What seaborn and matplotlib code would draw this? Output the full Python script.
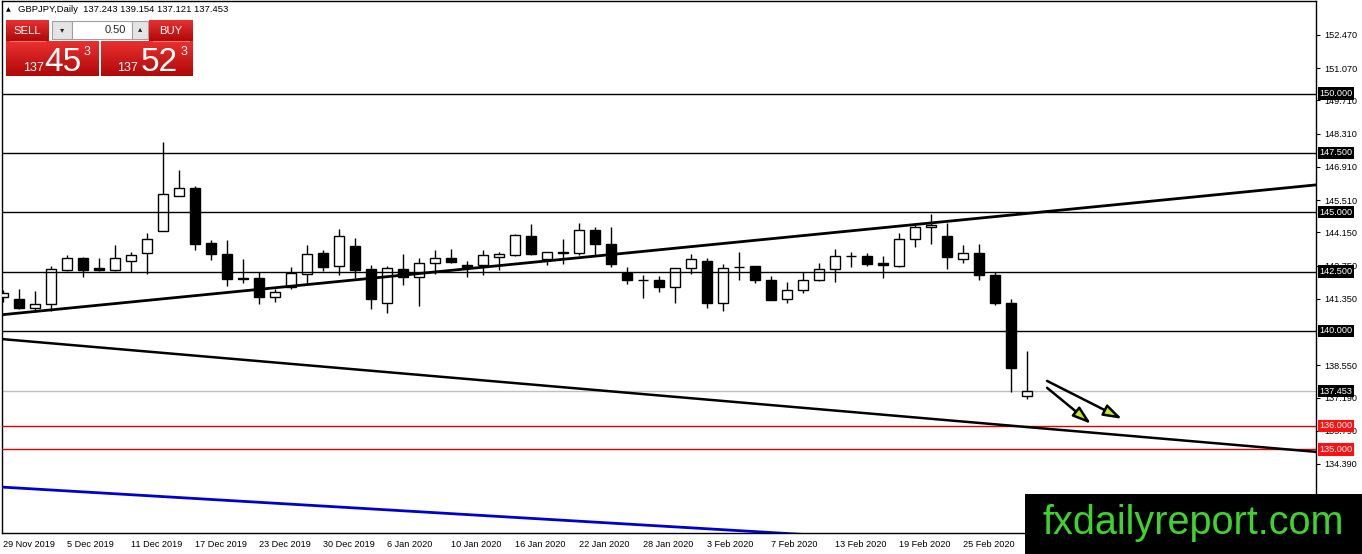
import numpy as np
import pandas as pd
import matplotlib
matplotlib.use("Agg")
import matplotlib.pyplot as plt
import matplotlib.transforms as mtransforms
from matplotlib.colors import LinearSegmentedColormap
from matplotlib.patches import Rectangle
import seaborn as sns

# ---------------- data ----------------
opens = [141.41, 141.36, 140.97, 141.11, 142.56, 143.05, 142.64, 142.56, 142.95, 143.26,
         144.22, 145.70, 146.04, 143.72, 143.23, 142.22, 142.21, 141.44, 141.83, 142.41,
         143.29, 142.73, 143.57, 142.59, 141.16, 142.59, 142.25, 142.84, 143.05, 142.77,
         142.77, 143.12, 143.19, 143.99, 143.01, 143.30, 143.29, 144.27, 143.65, 142.44,
         142.13, 142.13, 141.85, 142.63, 142.94, 141.19, 142.69, 142.73, 142.16, 141.36,
         141.71, 142.13, 142.59, 143.16, 143.15, 142.87, 142.74, 143.85, 144.36, 143.99,
         143.01, 143.26, 142.37, 141.16, 137.243]
highs = [141.70, 141.76, 141.69, 142.73, 143.19, 143.10, 143.05, 143.61, 143.33, 144.12,
         147.95, 146.78, 146.10, 143.82, 143.82, 143.02, 142.49, 141.75, 142.70, 143.61,
         143.40, 144.31, 143.90, 142.77, 142.73, 143.23, 143.05, 143.40, 143.43, 142.94,
         143.40, 143.33, 144.10, 144.50, 143.31, 143.89, 144.55, 144.37, 144.37, 142.67,
         142.34, 142.30, 142.63, 143.23, 143.05, 142.80, 143.33, 142.75, 142.30, 142.06,
         142.50, 142.87, 143.44, 143.33, 143.30, 143.16, 144.13, 144.50, 144.92, 144.55,
         143.61, 143.64, 142.49, 141.36, 139.154]
lows = [141.20, 140.90, 140.80, 140.85, 142.52, 142.28, 142.52, 142.52, 142.47, 142.41,
        144.20, 145.68, 143.42, 142.98, 141.91, 142.02, 141.11, 141.22, 141.75, 141.96,
        142.52, 142.37, 142.23, 140.93, 140.75, 141.94, 141.06, 142.41, 142.84, 142.28,
        142.37, 142.56, 143.16, 143.20, 142.77, 142.80, 143.19, 143.16, 142.67, 141.99,
        141.40, 141.64, 141.18, 142.41, 140.98, 140.84, 142.16, 142.02, 141.30, 141.18,
        141.60, 142.11, 142.06, 142.70, 142.73, 142.23, 142.70, 143.54, 143.64, 142.59,
        142.87, 142.16, 141.09, 137.41, 137.121]
closes = [141.58, 140.97, 141.11, 142.59, 143.05, 142.56, 142.57, 143.05, 143.19, 143.89,
          145.75, 146.02, 143.67, 143.23, 142.20, 142.20, 141.44, 141.63, 142.44, 143.23,
          142.70, 143.99, 142.56, 141.35, 142.64, 142.25, 142.84, 143.05, 142.91, 142.71,
          143.19, 143.23, 144.03, 143.22, 143.31, 143.32, 144.27, 143.64, 142.80, 142.13,
          142.14, 141.85, 142.63, 143.01, 141.19, 142.63, 142.71, 142.16, 141.32, 141.73,
          142.13, 142.59, 143.16, 143.17, 142.81, 142.77, 143.85, 144.36, 144.46, 143.12,
          143.26, 142.37, 141.16, 138.45, 137.453]

date_labels = ["29 Nov 2019", "5 Dec 2019", "11 Dec 2019", "17 Dec 2019", "23 Dec 2019",
               "30 Dec 2019", "6 Jan 2020", "10 Jan 2020", "16 Jan 2020", "22 Jan 2020",
               "28 Jan 2020", "3 Feb 2020", "7 Feb 2020", "13 Feb 2020", "19 Feb 2020",
               "25 Feb 2020"]
label_every = 4

y_ticks = [152.47, 151.07, 149.71, 148.31, 146.91, 145.51, 144.15, 142.75, 141.35,
           138.55, 137.19, 135.79, 134.39, 133.03]

black_levels = [150.0, 147.5, 145.0, 142.5, 140.0]
red_levels = [136.0, 135.0]
last_price = 137.453

# trend lines: (bar index, price) anchor points
rise_x = [-0.19, 82.06]
rise_y = [140.67, 146.15]
fall_x = [-0.19, 82.06]
fall_y = [139.66, 134.90]
blue_x = [-0.19, 55.0]
blue_y = [133.42, 131.22]

# arrows: start / end (bar index, price)
arrow_start_x = [65.25, 65.25]
arrow_start_y = [137.89, 137.60]
arrow_end_x = [69.94, 68.00]
arrow_end_y = [136.29, 136.08]

header = "GBPJPY,Daily  137.243 139.154 137.121 137.453"

# ---------------- style ----------------
sns.set_style("white")
plt.rcParams["font.family"] = ["Liberation Sans", "DejaVu Sans"]

W, H = 1362, 554
fig = plt.figure(figsize=(W / 100, H / 100), dpi=100)
ax = fig.add_axes([2 / W, 21 / H, 1314 / W, 532 / H])

df = pd.DataFrame({"o": opens, "h": highs, "l": lows, "c": closes})
df["i"] = np.arange(len(df))
df["bull"] = df["c"] >= df["o"]
df["bottom"] = df[["o", "c"]].min(axis=1)
df["height"] = (df["c"] - df["o"]).abs()

# wicks
ax.vlines(df["i"], df["l"], df["h"], color="black", linewidth=1.0, zorder=2)
# bodies
ax.bar(df["i"], df["height"], bottom=df["bottom"], width=0.66,
       color=np.where(df["bull"], "white", "black"), edgecolor="black",
       linewidth=1.0, zorder=3)

# horizontal levels
for lv in black_levels:
    ax.axhline(lv, color="black", linewidth=1.0, zorder=4)
ax.axhline(last_price, color="#c0c0c0", linewidth=1.0, zorder=1)
for lv in red_levels:
    ax.axhline(lv, color="#e00000", linewidth=1.0, zorder=4)

# trend lines
sns.lineplot(x=rise_x, y=rise_y, ax=ax, color="black", linewidth=2.0,
             estimator=None, sort=False, zorder=5)
sns.lineplot(x=fall_x, y=fall_y, ax=ax, color="black", linewidth=1.8,
             estimator=None, sort=False, zorder=5)
sns.lineplot(x=blue_x, y=blue_y, ax=ax, color="#0000cc", linewidth=2.0,
             estimator=None, sort=False, zorder=5)

# arrows
for sx, sy, ex, ey in zip(arrow_start_x, arrow_start_y, arrow_end_x, arrow_end_y):
    ax.annotate("", xy=(ex, ey), xytext=(sx, sy),
                arrowprops=dict(arrowstyle="-|>,head_length=1.1,head_width=0.36",
                                fc="#c8e61e", ec="black", lw=1.8,
                                shrinkA=0, shrinkB=0, mutation_scale=10),
                zorder=6)

ax.set_xlim(-0.0625, 82.06)
ax.set_ylim(131.48, 153.90)

# axes styling
for sp in ax.spines.values():
    sp.set_visible(True)
    sp.set_color("black")
    sp.set_linewidth(1.0)

ax.yaxis.tick_right()
ax.set_yticks(y_ticks)
ax.set_yticklabels([f"{v:.3f}" for v in y_ticks])
ax.tick_params(axis="y", direction="out", length=3, width=0.8, pad=3,
               labelsize=6.6, colors="black")
xt = [k * label_every for k in range(len(date_labels))]
ax.set_xticks(xt)
ax.set_xticklabels(date_labels)
for lab in ax.get_xticklabels():
    lab.set_ha("left")
ax.tick_params(axis="x", direction="out", length=3, width=0.8, pad=2,
               labelsize=6.6, colors="black")
ax.grid(False)

# price labels on the right axis
trans = mtransforms.blended_transform_factory(ax.transAxes, ax.transData)
for lv in black_levels + [last_price]:
    ax.text(1.0025, lv, f"{lv:.3f}", transform=trans, ha="left", va="center",
            fontsize=6.6, color="white", clip_on=False, zorder=20,
            bbox=dict(boxstyle="square,pad=0.18", fc="black", ec="none"))
for lv in red_levels:
    ax.text(1.0025, lv, f"{lv:.3f}", transform=trans, ha="left", va="center",
            fontsize=6.6, color="white", clip_on=False, zorder=20,
            bbox=dict(boxstyle="square,pad=0.18", fc="#ff1010", ec="none"))

# ---------------- overlay (trade panel + logo) ----------------
ov = fig.add_axes([0, 0, 1, 1], zorder=10)
ov.set_xlim(0, W)
ov.set_ylim(H, 0)
ov.axis("off")
ov.patch.set_alpha(0)

red_cmap = LinearSegmentedColormap.from_list("r", ["#ea3030", "#b00808"])
grad = np.linspace(0, 1, 64).reshape(-1, 1)


def red_box(x0, y0, x1, y1):
    ov.imshow(grad, extent=[x0, x1, y1, y0], cmap=red_cmap, aspect="auto",
              interpolation="bilinear", zorder=2)


ov.text(6, 10, "\u25B2", fontsize=4.5, va="center", ha="left", color="black",
        family=["DejaVu Sans"], zorder=3)
ov.text(18, 10, header, fontsize=6.8, va="center", ha="left", color="black", zorder=3)

red_box(6, 20, 49, 41)
red_box(149, 20, 193, 41)
red_box(6, 41, 99, 76)
red_box(101, 41, 193, 76)
ov.plot([10, 45], [41, 41], color="#f07070", lw=0.8, zorder=3)
ov.plot([153, 189], [41, 41], color="#f07070", lw=0.8, zorder=3)
ov.text(27.5, 31, "SELL", fontsize=8.2, color="white", ha="center", va="center", zorder=3)
ov.text(171, 31, "BUY", fontsize=8.2, color="white", ha="center", va="center", zorder=3)

ov.add_patch(Rectangle((52, 21), 20, 18, fc="#e4e4e4", ec="#a0a0a0", lw=0.8, zorder=2))
ov.add_patch(Rectangle((72, 21), 60, 18, fc="white", ec="#a0a0a0", lw=0.8, zorder=2))
ov.add_patch(Rectangle((132, 21), 16, 18, fc="#e4e4e4", ec="#a0a0a0", lw=0.8, zorder=2))
ov.text(62, 30, "\u25BE", fontsize=6, ha="center", va="center", family=["DejaVu Sans"], zorder=3)
ov.text(140, 29, "\u25B4", fontsize=6, ha="center", va="center", family=["DejaVu Sans"], zorder=3)
ov.text(126, 30, "0.50", fontsize=8, ha="right", va="center", zorder=3)

ov.text(23, 71, "137", fontsize=9, color="white", ha="left", va="baseline", zorder=3)
ov.text(44, 71, "45", fontsize=24, color="white", ha="left", va="baseline", zorder=3)
ov.text(84, 55, "3", fontsize=9, color="white", ha="left", va="baseline", zorder=3)
ov.text(117, 71, "137", fontsize=9, color="white", ha="left", va="baseline", zorder=3)
ov.text(141, 71, "52", fontsize=24, color="white", ha="left", va="baseline", zorder=3)
ov.text(181, 55, "3", fontsize=9, color="white", ha="left", va="baseline", zorder=3)

# logo
ov.add_patch(Rectangle((1025, 494), W - 1025, H - 494, fc="black", ec="none", zorder=4))
ov.text(1193, 534, "fxdailyreport.com", fontsize=28.5, color="#3fd42c",
        ha="center", va="baseline", zorder=5)

fig.savefig("out.png", dpi=100)
